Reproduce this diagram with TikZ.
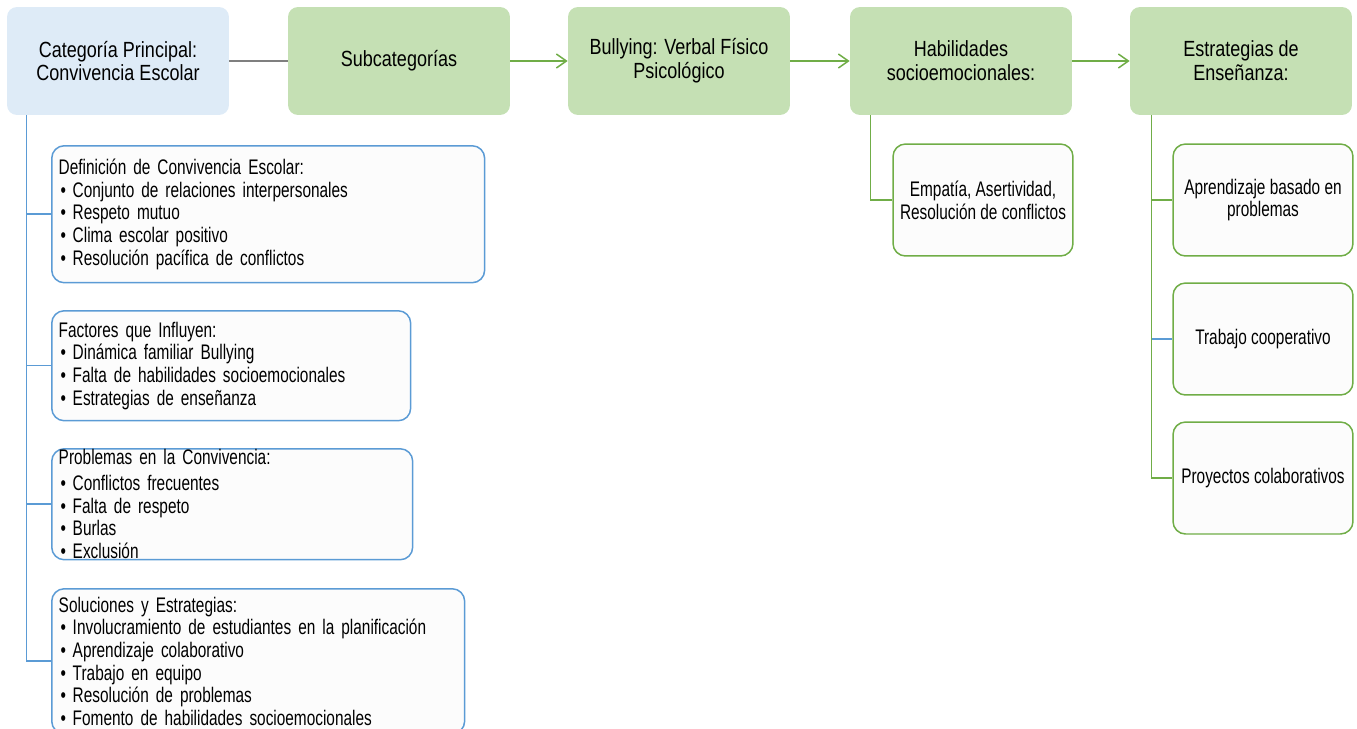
\documentclass[tikz,border=0pt]{standalone}
\usepackage{fontspec}
\setmainfont{Liberation Sans}[FakeStretch=0.73]
\newfontfamily\topfont{Liberation Sans}[FakeStretch=0.82]
\usepackage{tikz}
\usetikzlibrary{arrows.meta}
\definecolor{mainfill}{HTML}{DEEBF7}
\definecolor{catfill}{HTML}{C5E0B4}
\definecolor{linegreen}{HTML}{70AD47}
\definecolor{lineblue}{HTML}{5B9BD5}
\definecolor{linegray}{HTML}{7F7F7F}
\tikzstyle{cat}=[rectangle, rounded corners=0.2cm, fill=catfill, minimum width=4.44cm, minimum height=2.16cm, inner sep=0pt, align=center, font=\topfont\fontsize{12.5}{13.6}\selectfont]
\tikzstyle{leftbox}=[rectangle, rounded corners=0.25cm, draw=lineblue, line width=0.03cm, fill=gray!2, inner xsep=0.14cm, inner ysep=0pt, align=left, anchor=north west, font=\fontsize{12}{12.9}\selectfont]
\tikzstyle{rightbox}=[rectangle, rounded corners=0.25cm, draw=linegreen, line width=0.03cm, fill=gray!2, minimum width=3.6cm, minimum height=2.24cm, inner sep=0pt, align=center, font=\fontsize{12}{12.9}\selectfont]
\tikzstyle{flow}=[-{Straight Barb[length=0.2cm, width=0.28cm]}, draw=linegreen, line width=0.03cm]
\tikzstyle{bluebus}=[draw=lineblue, line width=0.03cm]
\tikzstyle{greenbus}=[draw=linegreen, line width=0.03cm]
\newcommand{\bul}{\hspace*{0.04cm}\makebox[0.24cm][l]{\textbullet}}

\begin{document}
\begin{tikzpicture}[x=0.02cm, y=-0.02cm]
	\useasboundingbox (0,0) rectangle (1357,728);

	% top row
	\node[cat, fill=mainfill](main) at (118,61){Categoría Principal:\\Convivencia Escolar};
	\node[cat](sub) at (399,61){Subcategorías};
	\node[cat](bully) at (679,61){Bullying: Verbal Físico\\Psicológico};
	\node[cat](hab) at (961,61){Habilidades\\socioemocionales:};
	\node[cat](est) at (1241,61){Estrategias de\\Enseñanza:};

	% left column
	\node[leftbox, minimum width=8.66cm, minimum height=2.74cm, text width=8.38cm](def) at (51,145){Definición de Convivencia Escolar:\\
		\bul Conjunto de relaciones interpersonales\\
		\bul Respeto mutuo\\
		\bul Clima escolar positivo\\
		\bul Resolución pacífica de conflictos\\[0.06cm]};
	\node[leftbox, minimum width=7.18cm, minimum height=2.2cm, text width=6.9cm](fact) at (51,310){Factores que Influyen:\\
		\bul Dinámica familiar Bullying\\
		\bul Falta de habilidades socioemocionales\\
		\bul Estrategias de enseñanza};
	\node[leftbox, minimum width=7.22cm, minimum height=2.22cm, text width=6.94cm](prob) at (51,448){Problemas en la Convivencia:\\[0.06cm]
		\bul Conflictos frecuentes\\
		\bul Falta de respeto\\
		\bul Burlas\\
		\bul Exclusión};
	\node[leftbox, minimum width=8.26cm, minimum height=2.9cm, text width=7.98cm](sol) at (51,588){Soluciones y Estrategias:\\
		\bul Involucramiento de estudiantes en la planificación\\
		\bul Aprendizaje colaborativo\\
		\bul Trabajo en equipo\\
		\bul Resolución de problemas\\
		\bul Fomento de habilidades socioemocionales};

	% right columns
	\node[rightbox](emp) at (983,200){Empatía, Asertividad,\\Resolución de conflictos};
	\node[rightbox](apr) at (1263,200){Aprendizaje basado en\\problemas};
	\node[rightbox](trab) at (1263,339){Trabajo cooperativo};
	\node[rightbox](proy) at (1263,478){Proyectos colaborativos};

	% connectors
	\draw[draw=linegray, line width=0.03cm] (main.east) -- (sub.west);
	\draw[flow] (sub.east) -- (bully.west);
	\draw[flow] (bully.east) -- (hab.west);
	\draw[flow] (hab.east) -- (est.west);

	\foreach \n in {def,fact,prob,sol}
		\draw[bluebus] ([xshift=0.4cm]main.south west) |- (\n.west);
	\draw[greenbus] ([xshift=0.42cm]hab.south west) |- (emp.west);
	\draw[greenbus] ([xshift=0.44cm]est.south west) |- (apr.west);
	\draw[greenbus] ([xshift=0.44cm]est.south west) |- (proy.west);
	\draw[bluebus] ([xshift=0.44cm]est.south west |- trab.west) -- (trab.west);

\end{tikzpicture}
\end{document}
